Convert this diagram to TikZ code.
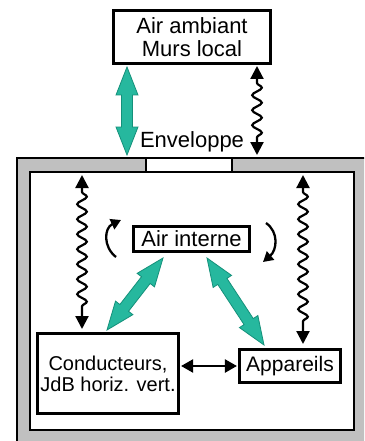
\documentclass[tikz,border=0pt]{standalone}
\usepackage{fontspec}
\setmainfont{Liberation Sans}
\usetikzlibrary{arrows.meta,decorations.pathmorphing,calc}
\definecolor{tealfill}{HTML}{26B89E}
\definecolor{tealedge}{HTML}{14907A}
\definecolor{wallgray}{HTML}{C0C0C0}
\tikzset{
  box/.style={draw=black, line width=2.6pt, fill=white, inner sep=0pt, align=center},
  wavy/.style={line width=2.2pt, decorate,
    decoration={snake, segment length=15pt, amplitude=4.8pt, pre length=17pt, post length=17pt},
    {Triangle[width=13pt,length=13pt]}-{Triangle[width=13pt,length=13pt]}},
  turn/.style={line width=2.3pt, -{Triangle[width=11pt,length=10pt]}},
  link/.style={line width=2.2pt, {Triangle[width=13pt,length=12pt]}-{Triangle[width=13pt,length=12pt]}},
  greenbody/.style={fill=tealfill, draw=tealedge, line width=0.8pt, line join=miter},
}
\newcommand\greenarrow[2]{%
  \path let \p1=($(#2)-(#1)$) in \pgfextra{%
    \pgfmathsetmacro\gaang{atan2(\y1,\x1)}%
    \pgfmathsetmacro\galen{veclen(\x1,\y1)}%
    \xdef\gaA{\gaang}\xdef\gaL{\galen}};
  \begin{scope}[shift={(#1)}, rotate=\gaA]
    \filldraw[greenbody] (0,0) -- (28,11) -- (28,5.5) -- ({\gaL-28},5.5) -- ({\gaL-28},11)
      -- (\gaL,0) -- ({\gaL-28},-11) -- ({\gaL-28},-5.5) -- (28,-5.5) -- (28,-11) -- cycle;
  \end{scope}
}
\begin{document}
\begin{tikzpicture}[x=1pt,y=-1pt]
\useasboundingbox (0,0) rectangle (364,441);
\clip (0,0) rectangle (364,441);
% walls
\filldraw[fill=wallgray, draw=black, line width=2pt] (17,158) rectangle (380,460);
\filldraw[fill=white, draw=black, line width=2.2pt] (30,172) rectangle (354,430);
\filldraw[fill=white, draw=black, line width=1.8pt] (146,158) rectangle (232,172);
% nodes
\node[box, minimum width=157pt, minimum height=53pt, font=\fontsize{22}{23}\selectfont] (amb) at (192,37) {Air ambiant\\Murs local};
\node[font=\fontsize{22}{23}\selectfont, anchor=base, inner sep=0pt] (env) at (192,147) {Enveloppe};
\node[box, minimum width=116pt, minimum height=25.5pt, font=\fontsize{22}{23}\selectfont] (ai) at (191.5,239) {Air interne};
\node[box, minimum width=141.5pt, minimum height=80.5pt, font=\fontsize{20}{21}\selectfont] (cond) at (108,373.5) {Conducteurs,\\JdB horiz. vert.};
\node[box, minimum width=101.5pt, minimum height=33.5pt, font=\fontsize{21}{23}\selectfont] (app) at (290,366) {Appareils};
% anchor coordinates
\coordinate (g1a) at (127,67);   \coordinate (g1b) at (127,155);
\coordinate (g2a) at (163,258);  \coordinate (g2b) at (107,330);
\coordinate (g3a) at (207,258);  \coordinate (g3b) at (264,345);
\coordinate (w1a) at (257,66);   \coordinate (w1b) at (257,155);
\coordinate (w2a) at (82,175);   \coordinate (w2b) at (82,329);
\coordinate (w3a) at (303,175);  \coordinate (w3b) at (303,344);
\coordinate (c1a) at (116,257);  \coordinate (c1b) at (121,220);
\coordinate (c2a) at (266,223);  \coordinate (c2b) at (263,262);
% green convection arrows
\greenarrow{g1a}{g1b}
\greenarrow{g2a}{g2b}
\greenarrow{g3a}{g3b}
% radiation arrows
\draw[wavy] (w1a) -- (w1b);
\draw[wavy] (w2a) -- (w2b);
\draw[wavy] (w3a) -- (w3b);
% circulation arrows
\draw[turn] (c1a) .. controls (103,247) and (104,228) .. (c1b);
\draw[turn] (c2a) .. controls (279,232) and (277,250) .. (c2b);
% conduction link
\draw[link] (cond.east |- app.west) ++(1,0) coordinate (hl) (hl) -- ([xshift=-1pt]app.west);
\end{tikzpicture}
\end{document}
